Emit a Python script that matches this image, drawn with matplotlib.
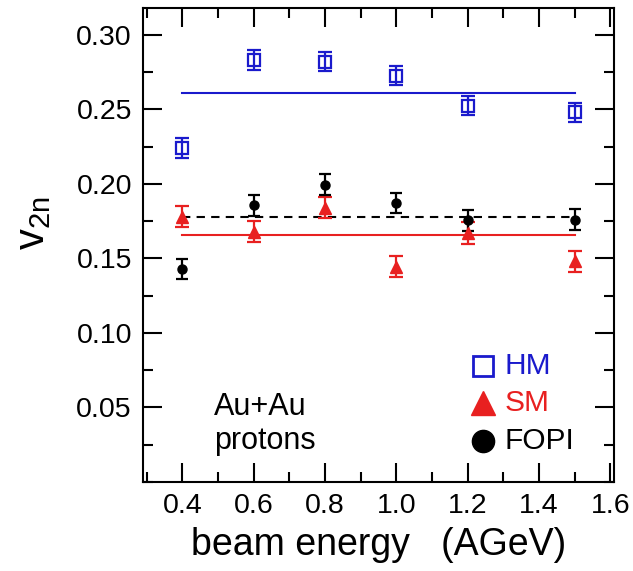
import numpy as np
import matplotlib.pyplot as plt
from matplotlib.ticker import MultipleLocator

plt.rcParams['font.family'] = ['Liberation Sans', 'DejaVu Sans']

# beam energies (AGeV)
energy = [0.4, 0.6, 0.8, 1.0, 1.2, 1.5]

# v2n values
hm = [0.224, 0.283, 0.282, 0.2725, 0.2525, 0.248]
hm_err = [0.0065, 0.0065, 0.0065, 0.0065, 0.0065, 0.0065]
sm = [0.178, 0.168, 0.184, 0.1445, 0.167, 0.148]
sm_err = [0.0072, 0.0072, 0.0072, 0.0072, 0.0072, 0.0072]
fopi = [0.143, 0.1855, 0.1995, 0.187, 0.1755, 0.176]
fopi_err = [0.0068, 0.0068, 0.0068, 0.0068, 0.0068, 0.0068]

hm_mean = 0.261
sm_mean = 0.166
fopi_mean = 0.178

blue = "#1a1acc"
red = "#e82020"

fig = plt.figure(figsize=(6.33, 5.71), dpi=100)
ax = fig.add_axes([0.226, 0.156, 0.744, 0.830])

ax.plot([energy[0], energy[-1]], [hm_mean] * 2, color=blue, lw=1.5)
ax.plot([energy[0], energy[-1]], [sm_mean] * 2, color=red, lw=1.5)
ax.plot([energy[0], energy[-1]], [fopi_mean] * 2, color="black", lw=1.5, ls=(0, (4, 3)))

ax.errorbar(energy, hm, yerr=hm_err, fmt='s', mfc='none', mec=blue, ecolor=blue,
            ms=9, mew=1.6, elinewidth=1.6, capsize=5, capthick=1.6)
ax.errorbar(energy, sm, yerr=sm_err, fmt='^', color=red, ms=9,
            elinewidth=1.6, capsize=5, capthick=1.6)
ax.errorbar(energy, fopi, yerr=fopi_err, fmt='o', color='black', ms=6.5,
            elinewidth=1.6, capsize=4, capthick=1.6)

ax.set_xlim(0.29, 1.61)
ax.set_ylim(0.0, 0.318)
ax.xaxis.set_minor_locator(MultipleLocator(0.1))
ax.yaxis.set_minor_locator(MultipleLocator(0.025))
ax.set_xticks([0.4, 0.6, 0.8, 1.0, 1.2, 1.4, 1.6])
ax.set_xticklabels(['0.4', '0.6', '0.8', '1.0', '1.2', '1.4', '1.6'])
ax.set_yticks([0.05, 0.10, 0.15, 0.20, 0.25, 0.30])
ax.set_yticklabels(['0.05', '0.10', '0.15', '0.20', '0.25', '0.30'])
ax.tick_params(which='both', direction='in', top=True, right=True, width=1.5,
               labelsize=20.5)
ax.tick_params(which='major', length=14, pad=8)
ax.tick_params(which='minor', length=7)
for s in ax.spines.values():
    s.set_linewidth(1.5)

ax.set_xlabel('beam energy   (AGeV)', fontsize=27, labelpad=6)
ax.set_ylabel(r'v$_{\mathregular{2n}}$', fontsize=30)
ax.yaxis.set_label_coords(-0.19, 0.545)

ax.text(0.489, 0.039, 'Au+Au\nprotons', fontsize=22, va='center', linespacing=1.15)

# legend drawn by hand
ax.plot([1.244], [0.0775], 's', mfc='none', mec=blue, ms=14, mew=2)
ax.text(1.302, 0.0775, 'HM', color=blue, fontsize=21.5, va='center')
ax.plot([1.244], [0.0527], '^', color=red, ms=17)
ax.text(1.302, 0.0527, 'SM', color=red, fontsize=21.5, va='center')
ax.plot([1.244], [0.0272], 'o', color='black', ms=16)
ax.text(1.302, 0.0272, 'FOPI', color='black', fontsize=21.5, va='center')

fig.savefig('out.png', dpi=100)
